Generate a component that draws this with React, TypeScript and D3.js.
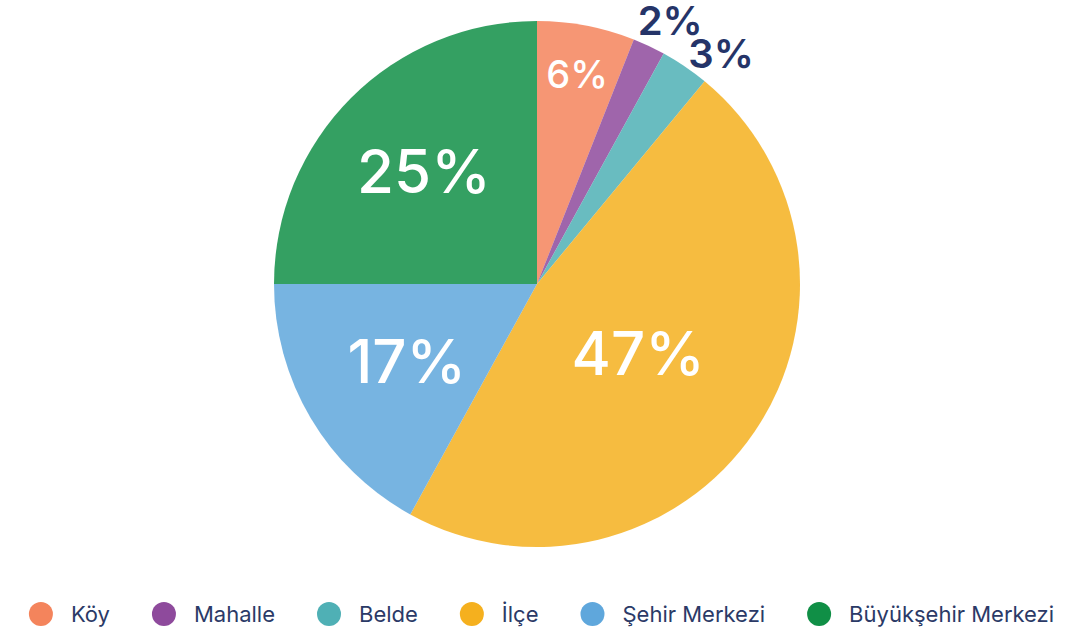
import React from 'react';
import * as d3 from 'd3';

// data
const categories = ['Köy', 'Mahalle', 'Belde', 'İlçe', 'Şehir Merkezi', 'Büyükşehir Merkezi'];
const values = [6, 2, 3, 47, 17, 25];
const colours = ['#f4845c', '#8e4a9c', '#4fb0b5', '#f5b01e', '#5fa7dc', '#108f46'];

// constants
const width = 1075;
const height = 636;
const cx = 537;
const cy = 284;
const radius = 263;
const fontFamily = 'Inter, "Noto Sans", sans-serif';
const textColour = '#2b3a67';
const capRatio = 0.727;
// where inside labels sit, as a fraction of the radius (small slices pushed out)
const insideLabelRadius = [0.814, 0, 0, 0.465, 0.575, 0.608];

const measure = (txt: string, size: number, weight = 400) => {
  const ctx = document.createElement('canvas').getContext('2d');
  if (!ctx) return txt.length * size * 0.55;
  ctx.font = `${weight} ${size}px Inter`;
  return ctx.measureText(txt).width;
};

const App = () => {
  const total = d3.sum(values);
  const pie = d3.pie<number>().sort(null).value(d => d);
  const arcs = pie(values);
  const arcGen = d3.arc<d3.PieArcDatum<number>>().innerRadius(0).outerRadius(radius);

  // label placement
  const labels = arcs.map((a, i) => {
    const pct = Math.round((a.data / total) * 100);
    const mid = (a.startAngle + a.endAngle) / 2;
    const inside = pct >= 5;
    if (inside) {
      const size = pct >= 10 ? 60 : 38;
      const r = radius * insideLabelRadius[i];
      return {
        i, text: `${pct}%`, inside, size,
        x: cx + r * Math.sin(mid), y: cy - r * Math.cos(mid) + (size * capRatio) / 2,
        anchor: 'middle',
      };
    }
    const r = radius + 6;
    return {
      i, text: `${pct}%`, inside, size: 40,
      x: cx + r * Math.sin(mid), y: cy - r * Math.cos(mid),
      anchor: 'start',
    };
  });

  // spread overlapping outside labels, then pull them back to the rim
  const outside = labels.filter(l => !l.inside).sort((a, b) => a.y - b.y);
  for (let k = 1; k < outside.length; k++) {
    const prev = outside[k - 1];
    const cur = outside[k];
    const need = 33;
    if (cur.y - prev.y < need) {
      const m = (cur.y + prev.y) / 2;
      prev.y = m - need / 2;
      cur.y = m + need / 2;
    }
  }
  outside.forEach(l => {
    const rr = radius + 6;
    const dy = cy - l.y;
    if (Math.abs(dy) < rr) l.x = Math.min(l.x, cx + Math.sqrt(rr * rr - dy * dy));
  });

  // legend layout
  const legendSize = 22;
  const dotR = 12;
  const textGap = 30;
  const itemGap = 42;
  const widths = categories.map(c => measure(c, legendSize));
  const itemWidths = widths.map(w => dotR + textGap + w);
  const totalW = d3.sum(itemWidths) + itemGap * (categories.length - 1);
  let xCursor = width / 2 + 4 - totalW / 2;
  const legendItems = categories.map((c, i) => {
    const item = { c, i, x: xCursor + dotR };
    xCursor += itemWidths[i] + itemGap;
    return item;
  });
  const legendY = 614;

  return (
    <div style={{ position: 'absolute', left: 0, top: 0 }}>
      <svg width={width} height={height} style={{ display: 'block', background: '#fff' }}>
        <g>
          {arcs.map((a, i) => (
            <path key={i} d={arcGen(a) || ''} transform={`translate(${cx},${cy})`}
              fill={colours[i]} fillOpacity={0.85} />
          ))}
        </g>
        <g fontFamily={fontFamily}>
          {labels.map(l => (
            <text key={l.i} x={l.x} y={l.y} textAnchor={l.anchor}
              fontSize={l.size} fontWeight={l.inside ? 500 : 600}
              fill={l.inside ? '#ffffff' : '#253468'}>
              {l.text}
            </text>
          ))}
        </g>
        <g fontFamily={fontFamily}>
          {legendItems.map(d => (
            <g key={d.i}>
              <circle cx={d.x} cy={legendY} r={dotR} fill={colours[d.i]} />
              <text x={d.x + textGap} y={legendY + (legendSize * capRatio) / 2}
                fontSize={legendSize} fill={textColour}>{d.c}</text>
            </g>
          ))}
        </g>
      </svg>
    </div>
  );
};

export default App;
